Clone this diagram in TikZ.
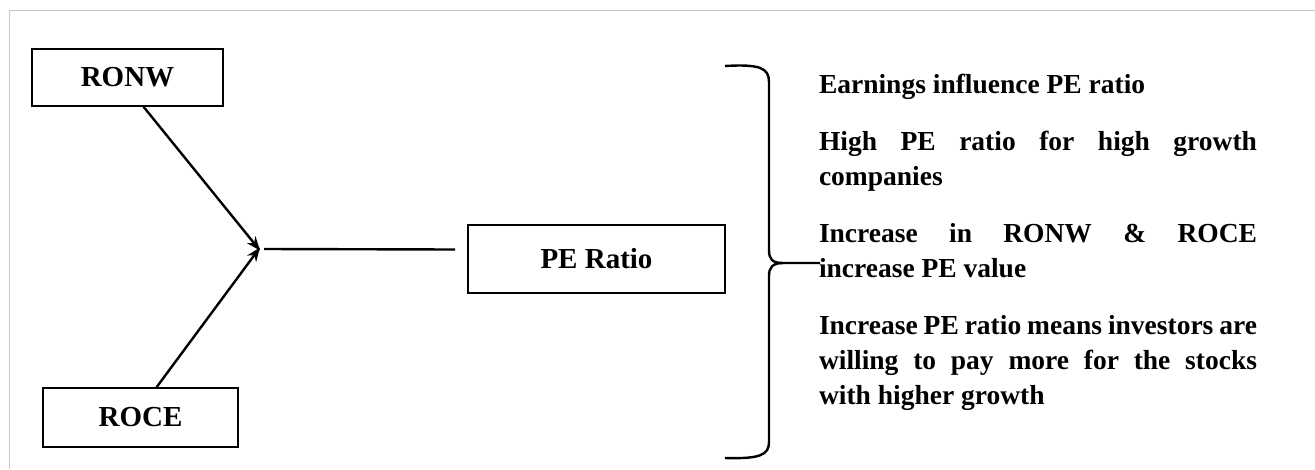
\documentclass[tikz,border=0pt]{standalone}
\usepackage{fontspec}
\setmainfont{Liberation Serif}
\usepackage{tikz}
\usetikzlibrary{positioning, arrows.meta}

\tikzset{
  factor/.style={draw, line width=1.4pt, inner sep=0pt, font=\fontsize{29}{32}\selectfont\bfseries},
  link/.style={line width=2.4pt, -{Stealth[length=14pt, width=11pt]}},
  note/.style={inner sep=0pt, outer sep=0pt, text width=438pt, align=justify,
    font=\fontsize{27.5}{35}\selectfont\bfseries}
}

\begin{document}
\begin{tikzpicture}[x=1pt, y=-1pt]
      \useasboundingbox (0,0) rectangle (1315,469);
      % frame of the figure
      \draw[gray!45, line width=1pt] (9,469) -- (9,10) -- (1315,10);

      % the two ratios and the PE ratio
      \node[factor, minimum width=191pt, minimum height=57pt] (ronw) at (127.5,77.5) {RONW};
      \node[factor, minimum width=195pt, minimum height=59pt] (roce) at (140.5,417.5) {ROCE};
      \node[factor, minimum width=257pt, minimum height=68pt] (pe) at (596.5,259) {PE Ratio};

      \coordinate (join) at (260,249);
      \coordinate (feed) at (455,249.5);
      \draw[link] ([xshift=16pt]ronw.south) -- ([yshift=-1.5pt]join);
      \draw[link] ([xshift=16pt]roce.north) -- ([yshift=1.5pt]join);
      \draw[line width=2.4pt] ([xshift=4pt]join) -- (feed);

      % brace round the effects
      \coordinate (btop) at (725,66);
      \coordinate (bbot) at (725,458);
      \coordinate (btip) at (820,263);
      \draw[line width=2.4pt] (btop) .. controls (760,64) and (769,68) .. (769,82)
        -- (769,250) .. controls (769,259) and (772,263) .. (783,263) -- (btip);
      \draw[line width=2.4pt] (783,263) .. controls (772,263) and (769,268) .. (769,276)
        -- (769,442) .. controls (769,455) and (760,459) .. (bbot);

      % effects on the PE ratio
      \node[note, anchor=north west] (e1) at (819,68.5)
        {\strut Earnings influence PE ratio\strut};
      \node[note, below=22pt of e1] (e2)
        {\strut High PE ratio for high growth companies\strut};
      \node[note, below=22pt of e2] (e3)
        {\strut Increase in RONW \& ROCE\linebreak increase PE value\strut};
      \node[note, below=22pt of e3] (e4)
        {\strut Increase PE ratio means investors are willing to pay more for the stocks\linebreak with higher growth\strut};
\end{tikzpicture}
\end{document}
